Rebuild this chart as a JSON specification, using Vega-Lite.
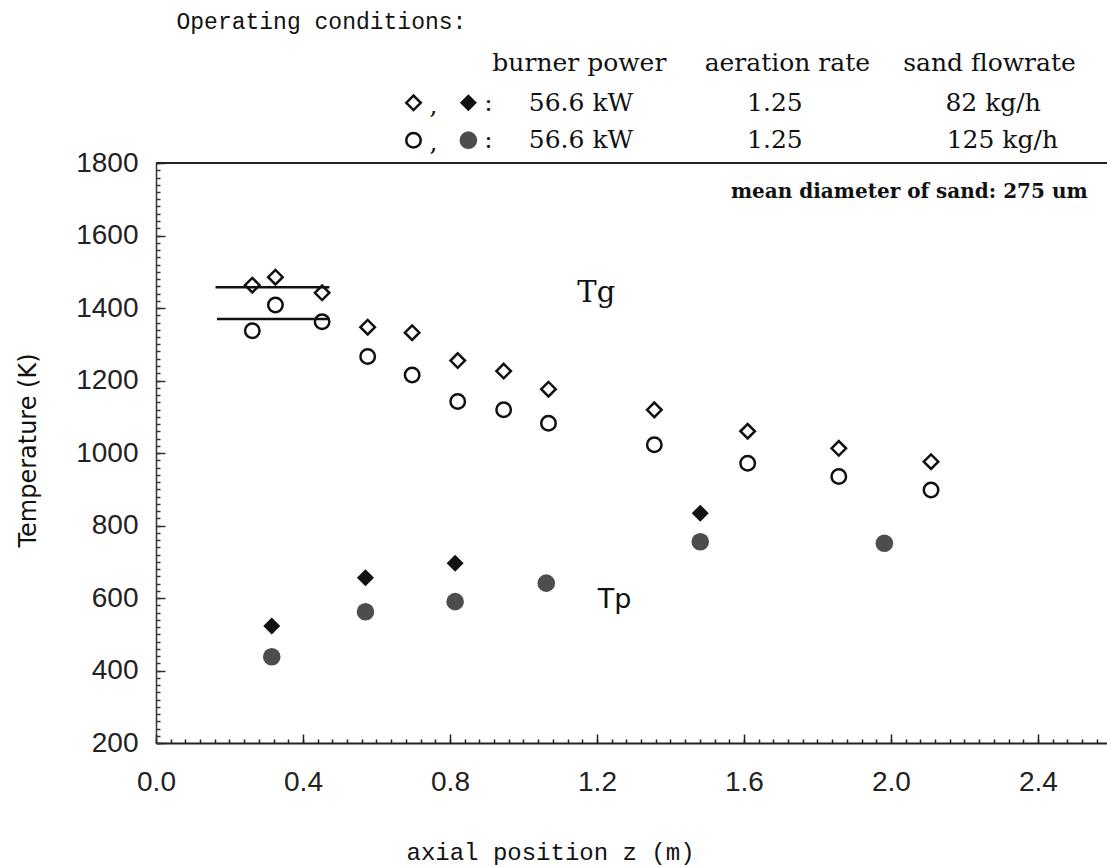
{
  "$schema": "https://vega.github.io/schema/vega-lite/v6.json",
  "width": 951,
  "height": 580,
  "autosize": "none",
  "padding": {"left": 156, "top": 163, "right": 0, "bottom": 124},
  "background": "white",
  "config": {"view": {"stroke": null}},
  "datasets": {
    "points": [
      {"series": "Tg82", "z": 0.262, "T": 1463},
      {"series": "Tg82", "z": 0.325, "T": 1485},
      {"series": "Tg82", "z": 0.452, "T": 1442},
      {"series": "Tg82", "z": 0.576, "T": 1347},
      {"series": "Tg82", "z": 0.697, "T": 1332},
      {"series": "Tg82", "z": 0.821, "T": 1255},
      {"series": "Tg82", "z": 0.946, "T": 1226},
      {"series": "Tg82", "z": 1.068, "T": 1176},
      {"series": "Tg82", "z": 1.356, "T": 1119},
      {"series": "Tg82", "z": 1.610, "T": 1060},
      {"series": "Tg82", "z": 1.858, "T": 1013},
      {"series": "Tg82", "z": 2.109, "T": 976},
      {"series": "Tg125", "z": 0.262, "T": 1337},
      {"series": "Tg125", "z": 0.325, "T": 1408},
      {"series": "Tg125", "z": 0.452, "T": 1362},
      {"series": "Tg125", "z": 0.576, "T": 1266},
      {"series": "Tg125", "z": 0.697, "T": 1215},
      {"series": "Tg125", "z": 0.821, "T": 1142},
      {"series": "Tg125", "z": 0.946, "T": 1119},
      {"series": "Tg125", "z": 1.068, "T": 1082},
      {"series": "Tg125", "z": 1.356, "T": 1023},
      {"series": "Tg125", "z": 1.610, "T": 972},
      {"series": "Tg125", "z": 1.858, "T": 935},
      {"series": "Tg125", "z": 2.109, "T": 898},
      {"series": "Tp82", "z": 0.315, "T": 523},
      {"series": "Tp82", "z": 0.570, "T": 656},
      {"series": "Tp82", "z": 0.814, "T": 696},
      {"series": "Tp82", "z": 1.481, "T": 834},
      {"series": "Tp125", "z": 0.315, "T": 438},
      {"series": "Tp125", "z": 0.570, "T": 562},
      {"series": "Tp125", "z": 0.814, "T": 590},
      {"series": "Tp125", "z": 1.062, "T": 641},
      {"series": "Tp125", "z": 1.481, "T": 755},
      {"series": "Tp125", "z": 1.982, "T": 751},
      {"series": "Tg82", "z": 0.7007, "T": 1966, "role": "key"},
      {"series": "Tp82", "z": 0.850, "T": 1966, "role": "key"},
      {"series": "Tg125", "z": 0.7007, "T": 1863, "role": "key"},
      {"series": "Tp125", "z": 0.850, "T": 1863, "role": "key"}
    ],
    "lines": [
      {"z": 0.162, "z2": 0.472, "T": 1457},
      {"z": 0.166, "z2": 0.472, "T": 1370}
    ],
    "notes": [
      {"kind": "mono", "z": 0.0558, "T": 2190, "text": "Operating conditions:"},
      {"kind": "head", "z": 1.152, "T": 2076, "text": "burner power"},
      {"kind": "head", "z": 1.718, "T": 2076, "text": "aeration rate"},
      {"kind": "head", "z": 2.268, "T": 2076, "text": "sand flowrate"},
      {"kind": "head", "z": 1.1565, "T": 1966, "text": "56.6 kW"},
      {"kind": "head", "z": 1.684, "T": 1966, "text": "1.25"},
      {"kind": "head", "z": 2.278, "T": 1966, "text": "82 kg/h"},
      {"kind": "head", "z": 1.1565, "T": 1863, "text": "56.6 kW"},
      {"kind": "head", "z": 1.684, "T": 1863, "text": "1.25"},
      {"kind": "head", "z": 2.303, "T": 1863, "text": "125 kg/h"},
      {"kind": "head", "z": 0.755, "T": 1958, "text": ","},
      {"kind": "head", "z": 0.905, "T": 1966, "text": ":"},
      {"kind": "head", "z": 0.755, "T": 1855, "text": ","},
      {"kind": "head", "z": 0.905, "T": 1863, "text": ":"},
      {"kind": "mean", "z": 2.535, "T": 1720, "text": "mean diameter of sand: 275 um"},
      {"kind": "tg", "z": 1.198, "T": 1441, "text": "Tg"},
      {"kind": "tp", "z": 1.248, "T": 594, "text": "Tp"}
    ]
  },
  "layer": [
    {
      "data": {"name": "points"},
      "transform": [{"filter": "datum.series == 'Tg82'"}],
      "mark": {"type": "point", "shape": "diamond", "filled": false, "stroke": "#111", "strokeWidth": 2.5, "size": 210, "opacity": 1, "clip": false},
      "encoding": {
        "x": {
          "field": "z", "type": "quantitative",
          "scale": {"domain": [0, 2.5878], "nice": false, "zero": false},
          "axis": {
            "title": "axial position z (m)",
            "titleFont": "Liberation Mono", "titleFontSize": 24, "titleFontWeight": "normal", "titleColor": "#111",
            "titleX": 394, "titleY": 109, "titleBaseline": "middle", "titleAlign": "center", "titleAnchor": null,
            "tickCount": 500,
            "values": [0,0.04,0.08,0.12,0.16,0.2,0.24,0.28,0.32,0.36,0.4,0.44,0.48,0.52,0.56,0.6,0.64,0.68,0.72,0.76,0.8,0.84,0.88,0.92,0.96,1.0,1.04,1.08,1.12,1.16,1.2,1.24,1.28,1.32,1.36,1.4,1.44,1.48,1.52,1.56,1.6,1.64,1.68,1.72,1.76,1.8,1.84,1.88,1.92,1.96,2.0,2.04,2.08,2.12,2.16,2.2,2.24,2.28,2.32,2.36,2.4,2.44,2.48,2.52,2.56],
            "labelExpr": "abs(datum.value*2.5-round(datum.value*2.5))<0.001 ? format(datum.value,'.1f') : ''",
            "labelFont": "Liberation Sans", "labelFontSize": 28, "labelColor": "#222",
            "labelPadding": 29, "labelOverlap": false, "labelFlush": false, "labelBaseline": "top",
            "tickSize": -4,
            "tickColor": "#222", "tickWidth": 1.5,
            "grid": true,
            "gridDash": [0, 571, 9, 3000],
            "gridColor": "#222", "gridWidth": 1.5,
            "gridOpacity": {"condition": {"test": "abs(datum.value*2.5-round(datum.value*2.5))<0.001", "value": 1}, "value": 0},
            "domainColor": "#222", "domainWidth": 2
          }
        },
        "y": {
          "field": "T", "type": "quantitative",
          "scale": {"domain": [200, 1800], "nice": false, "zero": false},
          "axis": {
            "title": "Temperature  (K)",
            "titleFont": "DejaVu Sans", "titleFontSize": 24, "titleFontWeight": "normal", "titleColor": "#111",
            "titleX": -128, "titleY": 287, "titleAngle": -90, "titleBaseline": "middle", "titleAlign": "center", "titleAnchor": null,
            "tickCount": 500,
            "values": [200,220,240,260,280,300,320,340,360,380,400,420,440,460,480,500,520,540,560,580,600,620,640,660,680,700,720,740,760,780,800,820,840,860,880,900,920,940,960,980,1000,1020,1040,1060,1080,1100,1120,1140,1160,1180,1200,1220,1240,1260,1280,1300,1320,1340,1360,1380,1400,1420,1440,1460,1480,1500,1520,1540,1560,1580,1600,1620,1640,1660,1680,1700,1720,1740,1760,1780,1800],
            "labelExpr": "datum.value % 200 == 0 ? format(datum.value,'d') : ''",
            "labelFont": "Liberation Sans", "labelFontSize": 28, "labelColor": "#222",
            "labelPadding": 22, "labelOverlap": false, "labelFlush": false,
            "tickSize": -4,
            "tickColor": "#333", "tickWidth": 1.5,
            "grid": true,
            "gridDash": [9, 3000],
            "gridColor": "#333", "gridWidth": 1.5,
            "gridOpacity": {"condition": {"test": "datum.value % 200 == 0", "value": 1}, "value": 0},
            "domainColor": "#333", "domainWidth": 1.5
          }
        }
      }
    },
    {
      "data": {"values": [{}]},
      "mark": {"type": "rule", "color": "#222", "strokeWidth": 2},
      "encoding": {"y": {"datum": 1800}}
    },
    {
      "data": {"name": "lines"},
      "mark": {"type": "rule", "color": "#111", "strokeWidth": 2.5},
      "encoding": {
        "x": {"field": "z", "type": "quantitative"},
        "x2": {"field": "z2"},
        "y": {"field": "T", "type": "quantitative"}
      }
    },
    {
      "data": {"name": "points"},
      "transform": [{"filter": "datum.series == 'Tg125'"}],
      "mark": {"type": "point", "shape": "circle", "filled": false, "stroke": "#111", "strokeWidth": 2.5, "size": 210, "opacity": 1, "clip": false},
      "encoding": {
        "x": {"field": "z", "type": "quantitative"},
        "y": {"field": "T", "type": "quantitative"}
      }
    },
    {
      "data": {"name": "points"},
      "transform": [{"filter": "datum.series == 'Tp82'"}],
      "mark": {"type": "point", "shape": "diamond", "filled": true, "fill": "#111", "strokeWidth": 0, "size": 290, "opacity": 1, "clip": false},
      "encoding": {
        "x": {"field": "z", "type": "quantitative"},
        "y": {"field": "T", "type": "quantitative"}
      }
    },
    {
      "data": {"name": "points"},
      "transform": [{"filter": "datum.series == 'Tp125'"}],
      "mark": {"type": "point", "shape": "circle", "filled": true, "fill": "#4d4d4d", "strokeWidth": 0, "size": 310, "opacity": 1, "clip": false},
      "encoding": {
        "x": {"field": "z", "type": "quantitative"},
        "y": {"field": "T", "type": "quantitative"}
      }
    },
    {
      "data": {"name": "notes"},
      "transform": [{"filter": "datum.kind == 'mono'"}],
      "mark": {"type": "text", "font": "Liberation Mono", "fontSize": 23, "color": "#111", "align": "left", "baseline": "middle"},
      "encoding": {
        "x": {"field": "z", "type": "quantitative"},
        "y": {"field": "T", "type": "quantitative"},
        "text": {"field": "text"}
      }
    },
    {
      "data": {"name": "notes"},
      "transform": [{"filter": "datum.kind == 'head'"}],
      "mark": {"type": "text", "font": "DejaVu Serif", "fontSize": 25, "color": "#111", "align": "center", "baseline": "middle"},
      "encoding": {
        "x": {"field": "z", "type": "quantitative"},
        "y": {"field": "T", "type": "quantitative"},
        "text": {"field": "text"}
      }
    },
    {
      "data": {"name": "notes"},
      "transform": [{"filter": "datum.kind == 'mean'"}],
      "mark": {"type": "text", "font": "DejaVu Serif", "fontSize": 20, "fontWeight": "bold", "color": "#111", "align": "right", "baseline": "middle"},
      "encoding": {
        "x": {"field": "z", "type": "quantitative"},
        "y": {"field": "T", "type": "quantitative"},
        "text": {"field": "text"}
      }
    },
    {
      "data": {"name": "notes"},
      "transform": [{"filter": "datum.kind == 'tg'"}],
      "mark": {"type": "text", "font": "DejaVu Serif", "fontSize": 29, "color": "#111", "align": "center", "baseline": "middle"},
      "encoding": {
        "x": {"field": "z", "type": "quantitative"},
        "y": {"field": "T", "type": "quantitative"},
        "text": {"field": "text"}
      }
    },
    {
      "data": {"name": "notes"},
      "transform": [{"filter": "datum.kind == 'tp'"}],
      "mark": {"type": "text", "font": "DejaVu Sans", "fontSize": 27, "color": "#111", "align": "center", "baseline": "middle"},
      "encoding": {
        "x": {"field": "z", "type": "quantitative"},
        "y": {"field": "T", "type": "quantitative"},
        "text": {"field": "text"}
      }
    }
  ]
}
